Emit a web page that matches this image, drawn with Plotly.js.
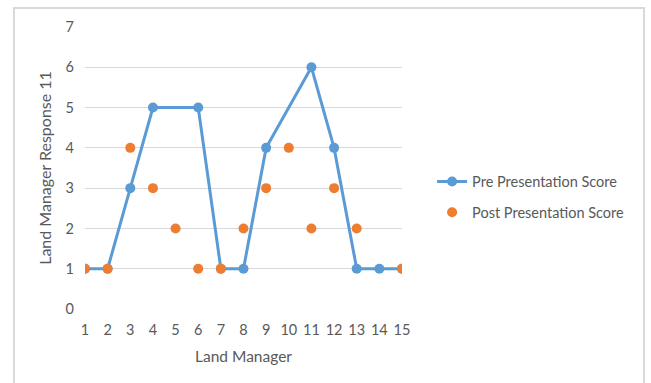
<!DOCTYPE html>
<html>
<head>
<meta charset="utf-8">
<script src="https://cdn.plot.ly/plotly-3.0.1.min.js"></script>
<style>
html, body { margin: 0; padding: 0; background: #fff; }
#frame { position: absolute; left: 13px; top: 7px; width: 632px; height: 420px; border: 2px solid #d9d9d9; box-sizing: border-box; pointer-events: none; z-index: 5; }
#chart { position: absolute; left: 0; top: 0; width: 651px; height: 383px; }
</style>
</head>
<body>
<div id="chart"></div>
<div id="frame"></div>
<script>
const managers = [1, 2, 3, 4, 5, 6, 7, 8, 9, 10, 11, 12, 13, 14, 15];
const preScores = [1, 1, 3, 5, null, 5, 1, 1, 4, null, 6, 4, 1, 1, 1];
const postScores = [1, 1, 4, 3, 2, 1, 1, 2, 3, 4, 2, 3, 2, null, 1];
const yTicks = [0, 1, 2, 3, 4, 5, 6, 7];

const font = "Lato, 'Open Sans', sans-serif";

const traces = [
  {
    x: managers, y: preScores, name: 'Pre Presentation Score', legendgroup: 'a',
    type: 'scatter', mode: 'lines+markers', connectgaps: true,
    line: { color: '#5B9BD5', width: 3 },
    marker: { color: '#5B9BD5', size: 10 }
  },
  {
    x: managers, y: postScores, name: 'Post Presentation Score', legendgroup: 'b',
    type: 'scatter', mode: 'markers',
    marker: { color: '#ED7D31', size: 10 }
  }
];

const layout = {
  width: 651, height: 383,
  margin: { l: 85, r: 249, t: 27, b: 74 },
  paper_bgcolor: '#fff', plot_bgcolor: '#fff',
  font: { family: font, size: 14.5, color: '#595959' },
  showlegend: true,
  legend: { x: 1.095, y: 0.397, xanchor: 'left', yanchor: 'middle', traceorder: 'grouped',
            font: { family: font, size: 14.5, color: '#595959' }, tracegroupgap: 9 },
  xaxis: {
    range: [1, 15], tickvals: managers, ticktext: managers.map(String),
    showgrid: false, zeroline: false, showline: false, ticks: '', ticklabelstandoff: 10,
    tickfont: { family: font, size: 14.5, color: '#595959' },
    title: { text: 'Land Manager', font: { family: font, size: 15.5, color: '#595959' }, standoff: 14 },
    automargin: false
  },
  yaxis: {
    range: [0, 7], tickvals: yTicks, showgrid: true, gridcolor: '#d9d9d9', gridwidth: 1,
    zeroline: false, showline: false, ticks: '', ticklabelstandoff: 10,
    tickfont: { family: font, size: 14.5, color: '#595959' },
    title: { text: 'Land Manager Response 11', font: { family: font, size: 16, color: '#595959' }, standoff: 9 },
    automargin: false
  }
};

Plotly.newPlot('chart', traces, layout, { displayModeBar: false, staticPlot: true });
</script>
</body>
</html>
